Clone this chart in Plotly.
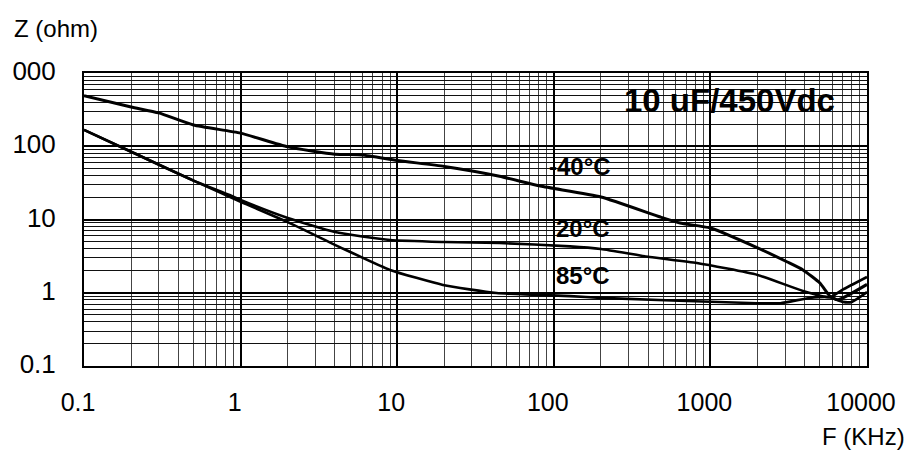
import plotly.graph_objects as go

# Data (frequency in kHz, impedance in ohm)
freq_m40 = [0.1, 0.2, 0.3, 0.5, 1, 2, 4, 6, 10, 20, 45, 82, 200, 480, 640, 1000, 2000, 3100, 3900, 5000, 5800, 6500, 10000]
z_m40 = [490, 344, 285, 195, 151, 98, 78, 76, 64, 53, 39, 28.6, 20.3, 10.8, 8.95, 7.65, 4.1, 2.63, 2.05, 1.36, 0.9, 0.8, 1.3]

freq_20 = [0.1, 0.2, 0.5, 0.85, 1, 2, 4, 9, 20, 45, 127, 200, 410, 820, 2000, 3900, 5800, 7000, 10000]
z_20 = [167, 84, 34, 21.6, 18.5, 10.5, 6.75, 5.25, 4.93, 4.77, 4.3, 3.95, 3.07, 2.55, 1.75, 1.06, 0.87, 1.1, 1.64]

freq_85 = [0.1, 0.2, 0.5, 1, 2, 4.3, 9, 19.6, 43, 127, 200, 2000, 2800, 4300, 5800, 7000, 8000, 10000]
z_85 = [167, 84, 34, 17.5, 9.2, 4.2, 2.05, 1.28, 0.99, 0.90, 0.85, 0.72, 0.72, 0.85, 0.87, 0.75, 0.75, 1.02]

x_tickvals = [0.1, 1, 10, 100, 1000, 10000]
x_ticktext = ["0.1", "1", "10", "100", "1000", "10000"]
y_tickvals = [0.1, 1, 10, 100, 1000]
y_ticktext = ["0.1", "1", "10", "100", "000"]

series = [("-40°C", freq_m40, z_m40, 3), ("20°C", freq_20, z_20, 2.6), ("85°C", freq_85, z_85, 2.6)]

FONT = "Liberation Sans, Arial, sans-serif"
fig = go.Figure()
for name, fx, fy, w in series:
    fig.add_trace(go.Scatter(x=fx, y=fy, mode="lines", name=name,
                             line=dict(color="black", width=w, shape="spline", smoothing=0.5),
                             showlegend=False, hoverinfo="skip"))

fig.update_layout(
    width=908, height=451,
    margin=dict(l=84, r=41, t=73, b=85),
    paper_bgcolor="white", plot_bgcolor="white",
    font=dict(family=FONT, color="black"),
    xaxis=dict(type="log", range=[-1, 4], tickvals=x_tickvals, ticktext=x_ticktext,
               showgrid=True, gridcolor="black", gridwidth=1.5,
               minor=dict(dtick="D1", showgrid=True, gridcolor="#444", gridwidth=1),
               showline=True, linecolor="black", linewidth=2, mirror=True, automargin=False,
               ticks="", tickfont=dict(size=25, family=FONT), ticklabelstandoff=13,
               ticklabelshift=-6, zeroline=False),
    yaxis=dict(type="log", range=[-1, 3], tickvals=y_tickvals, ticktext=y_ticktext,
               showgrid=True, gridcolor="black", gridwidth=1.5,
               minor=dict(dtick="D1", showgrid=True, gridcolor="#111", gridwidth=1),
               showline=True, linecolor="black", linewidth=2, mirror=True, automargin=False,
               ticks="", tickfont=dict(size=26, family=FONT), ticklabelstandoff=21,
               ticklabelshift=-2, zeroline=False),
)

fig.add_annotation(text="Z (ohm)", xref="paper", yref="paper", x=-84/783, xshift=12, y=1, yshift=45,
                   xanchor="left", yanchor="middle", showarrow=False, font=dict(size=24, family=FONT))
fig.add_annotation(text="F (KHz)", xref="paper", yref="paper", x=1, xshift=40, y=0, yshift=-70,
                   xanchor="right", yanchor="middle", showarrow=False, font=dict(size=24, family=FONT))
fig.add_annotation(text="<b>10 uF/450Vdc</b>", xref="x", yref="y", x=3.125, y=2.63,
                   xanchor="center", yanchor="middle", showarrow=False, font=dict(size=33, family=FONT))
labels = [("<b>-40°C</b>", 2.165, 1.717), ("<b>20°C</b>", 2.187, 0.884), ("<b>85°C</b>", 2.187, 0.242)]
for t, lx, ly in labels:
    fig.add_annotation(text=t, xref="x", yref="y", x=lx, y=ly, xanchor="center", yanchor="middle",
                       showarrow=False, font=dict(size=24, family=FONT))

fig.write_html("out.html")
